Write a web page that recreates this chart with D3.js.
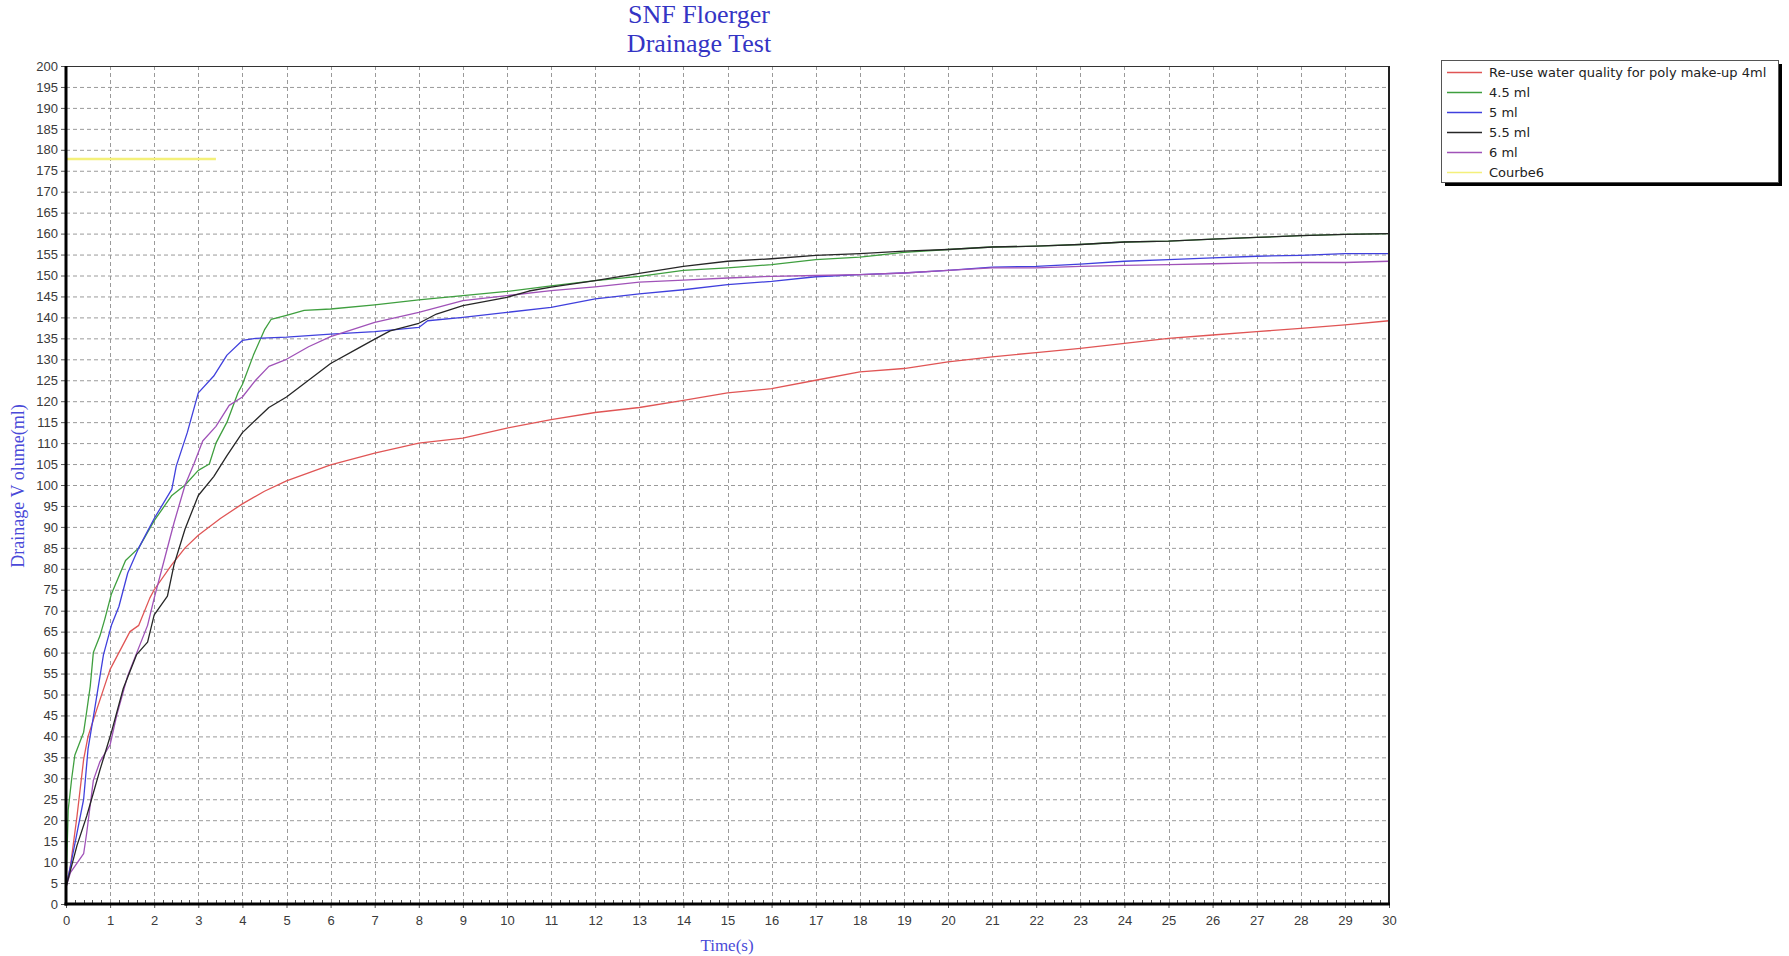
<!DOCTYPE html>
<html>
<head>
<meta charset="utf-8">
<script src="https://cdn.jsdelivr.net/npm/d3@7"></script>
<style>
  html, body { margin: 0; padding: 0; background: #fff; }
  svg { display: block; }
</style>
</head>
<body>
<svg id="chart" width="1789" height="956"></svg>
<script>
// ---------- DATA ----------
const titleLines = ["SNF Floerger", "Drainage Test"];
const xLabel = "Time(s)";
const yLabel = "Drainage V olume(ml)";
const xTicks = d3.range(0, 31, 1);
const yTicks = d3.range(0, 201, 5);

const seriesNames = ["Re-use water quality for poly make-up 4ml", "4.5 ml", "5 ml", "5.5 ml", "6 ml", "Courbe6"];
const seriesColors = ["#e05555", "#3f9f3f", "#4040dd", "#262626", "#a052b8", "#f4f07a"];

const redT = [0, 0.1, 0.25, 0.4, 0.5, 0.7, 1.0, 1.45, 1.65, 1.9, 2.0, 2.4, 2.7, 3.0, 3.5, 4.0, 4.5, 5.0, 6, 7, 8, 9, 10, 11, 12, 13, 14, 15, 16, 17, 18, 19, 20, 21, 22, 23, 24, 25, 26, 27, 28, 29, 30];
const redV = [4, 9, 21, 34.5, 40, 46.5, 56, 65, 66.5, 73, 75, 81, 85, 88, 92, 95.5, 98.5, 101, 104.8, 107.6, 110, 111.2, 113.6, 115.6, 117.3, 118.5, 120.2, 122, 123, 125, 127, 127.8, 129.4, 130.6, 131.6, 132.6, 133.8, 135, 135.8, 136.6, 137.4, 138.2, 139.2];

const greenT = [0, 0.05, 0.13, 0.2, 0.4, 0.47, 0.55, 0.62, 0.77, 0.88, 1.03, 1.35, 1.65, 2.0, 2.4, 2.7, 3.0, 3.25, 3.4, 3.65, 3.9, 4.0, 4.25, 4.5, 4.65, 5.0, 5.4, 6, 7, 8, 9, 10, 11, 12, 13, 14, 15, 16, 17, 18, 19, 20, 21, 22, 23, 24, 25, 26, 27, 28, 29, 30];
const greenV = [4, 22.5, 30, 35.5, 41, 46, 52, 60, 64, 68, 74, 82, 85, 91.5, 97.5, 100, 103.5, 105, 110, 115, 122, 124, 131, 137, 139.5, 140.5, 141.7, 142, 143, 144.2, 145.2, 146.2, 147.5, 148.8, 149.8, 151.2, 151.8, 152.6, 153.8, 154.4, 155.5, 156.2, 156.8, 157, 157.4, 158, 158.2, 158.7, 159.1, 159.5, 159.8, 160];

const blueT = [0, 0.1, 0.25, 0.4, 0.5, 0.65, 0.85, 1.03, 1.2, 1.4, 1.65, 2.0, 2.4, 2.5, 2.75, 3.0, 3.35, 3.65, 4.0, 4.3, 5.0, 6, 7, 8, 8.2, 9, 10, 11, 12, 13, 14, 15, 16, 17, 18, 19, 20, 21, 22, 23, 24, 25, 26, 27, 28, 29, 30];
const blueV = [4, 9, 17, 25, 37, 46.5, 59.5, 66.5, 71, 79, 85, 92, 99, 104.5, 112.5, 122, 126, 131, 134.5, 135, 135.3, 136, 136.6, 137.6, 139.2, 140, 141.2, 142.4, 144.4, 145.6, 146.6, 147.8, 148.6, 149.7, 150.2, 150.6, 151.2, 152, 152.2, 152.7, 153.4, 153.8, 154.2, 154.6, 154.8, 155.2, 155.2];

const blackT = [0, 0.25, 0.47, 0.62, 0.77, 1.03, 1.3, 1.6, 1.85, 2.0, 2.3, 2.45, 2.7, 3.0, 3.35, 3.65, 4.0, 4.3, 4.6, 5.0, 5.5, 6, 6.6, 7, 7.35, 8, 8.4, 9, 10, 10.5, 11, 12, 13, 14, 15, 16, 17, 18, 19, 20, 21, 22, 23, 24, 25, 26, 27, 28, 29, 30];
const blackV = [4, 14, 21, 26.5, 32, 41, 51.5, 59.5, 62.5, 69, 73.5, 81, 89.5, 97.5, 102, 107, 112.5, 115.5, 118.5, 121, 125, 129, 132.5, 134.8, 136.8, 138.6, 140.8, 142.8, 144.8, 146.3, 147.2, 148.8, 150.5, 152.2, 153.4, 154, 154.8, 155.2, 155.8, 156.2, 156.8, 157, 157.4, 158, 158.2, 158.7, 159.1, 159.5, 159.8, 160];

const purpleT = [0, 0.1, 0.4, 0.47, 0.62, 0.77, 1.0, 1.15, 1.4, 1.7, 1.85, 2.0, 2.25, 2.45, 2.7, 2.9, 3.1, 3.4, 3.7, 4.0, 4.3, 4.6, 5.0, 5.5, 6, 7, 8, 9, 10, 11, 12, 13, 14, 15, 16, 17, 18, 19, 20, 21, 22, 23, 24, 25, 26, 27, 28, 29, 30];
const purpleV = [4, 7.5, 12, 17, 29.5, 34, 38, 45, 54.5, 62.5, 66.5, 73, 83, 91, 100, 105, 110.5, 114, 119, 121, 125, 128.3, 130, 133, 135.4, 138.8, 141.2, 144, 145.2, 146.4, 147.3, 148.4, 148.9, 149.4, 149.8, 150, 150.2, 150.6, 151.2, 151.8, 151.8, 152.2, 152.4, 152.6, 152.8, 153, 153.1, 153.1, 153.4];

const courbe6T = [0, 3.4];
const courbe6V = [177.8, 177.8];

// ---------- LAYOUT ----------
const svg = d3.select("#chart");
const W = 1789, H = 956;
const plot = { left: 66, right: 1389, top: 66, bottom: 904 };

const x = d3.scaleLinear().domain([0, 30]).range([plot.left, plot.right]);
const y = d3.scaleLinear().domain([0, 200]).range([plot.bottom, plot.top]);

svg.append("rect").attr("width", W).attr("height", H).attr("fill", "#fff");

// Grid
const grid = svg.append("g");
grid.selectAll("line.h").data(yTicks.filter(d => d > 0 && d < 200)).enter().append("line")
  .attr("x1", plot.left).attr("x2", plot.right)
  .attr("y1", d => y(d) + 0.5).attr("y2", d => y(d) + 0.5)
  .attr("stroke", "#9a9a9a").attr("stroke-width", 1).attr("stroke-dasharray", "4,3");
grid.selectAll("line.v").data(xTicks.filter(d => d > 0 && d < 30)).enter().append("line")
  .attr("y1", plot.top).attr("y2", plot.bottom)
  .attr("x1", d => Math.round(x(d)) + 0.5).attr("x2", d => Math.round(x(d)) + 0.5)
  .attr("stroke", "#9a9a9a").attr("stroke-width", 1).attr("stroke-dasharray", "4,3");

// Minor ticks on x axis (inside)
const minor = d3.range(0, 30.001, 0.2).filter(d => Math.abs(d - Math.round(d)) > 0.01);
svg.append("g").selectAll("line").data(minor).enter().append("line")
  .attr("x1", d => Math.round(x(d)) + 0.5).attr("x2", d => Math.round(x(d)) + 0.5)
  .attr("y1", plot.bottom - 4).attr("y2", plot.bottom)
  .attr("stroke", "#555").attr("stroke-width", 1);

// Axes
const xAxis = d3.axisBottom(x).tickValues(xTicks).tickSize(4).tickPadding(8).tickFormat(d3.format("d"));
const yAxis = d3.axisLeft(y).tickValues(yTicks).tickSize(5).tickPadding(3).tickFormat(d3.format("d"));

const gx = svg.append("g").attr("transform", `translate(0,${plot.bottom})`).call(xAxis);
const gy = svg.append("g").attr("transform", `translate(${plot.left},0)`).call(yAxis);
[gx, gy].forEach(g => {
  g.select(".domain").remove();
  g.selectAll(".tick line").attr("stroke", "#555");
  g.selectAll(".tick text").attr("fill", "#3a3a3a")
    .style("font-family", "Arial, 'Liberation Sans', sans-serif").style("font-size", "13px");
});

// Series
const line = d3.line().x(d => x(d[0])).y(d => y(d[1]));
const seriesData = [
  d3.zip(redT, redV), d3.zip(greenT, greenV), d3.zip(blueT, blueV),
  d3.zip(blackT, blackV), d3.zip(purpleT, purpleV), d3.zip(courbe6T, courbe6V)
];
const drawOrder = [5, 0, 1, 2, 4, 3];
svg.append("g").selectAll("path").data(drawOrder).enter().append("path")
  .attr("d", i => line(seriesData[i]))
  .attr("fill", "none")
  .attr("stroke", i => seriesColors[i])
  .attr("stroke-width", i => i === 5 ? 2.5 : 1.3)
  .attr("stroke-linejoin", "round");

// Plot border
svg.append("line").attr("x1", plot.left).attr("x2", plot.right).attr("y1", plot.top + 0.5).attr("y2", plot.top + 0.5)
  .attr("stroke", "#333").attr("stroke-width", 1);
svg.append("line").attr("x1", plot.right).attr("x2", plot.right).attr("y1", plot.top).attr("y2", plot.bottom)
  .attr("stroke", "#222").attr("stroke-width", 2);
svg.append("line").attr("x1", plot.left).attr("x2", plot.left).attr("y1", plot.top).attr("y2", plot.bottom + 1.5)
  .attr("stroke", "#000").attr("stroke-width", 3);
svg.append("line").attr("x1", plot.left - 1.5).attr("x2", plot.right + 1).attr("y1", plot.bottom).attr("y2", plot.bottom)
  .attr("stroke", "#000").attr("stroke-width", 3);

// Titles
const titleColor = "#3434c4";
svg.append("text").attr("x", 699).attr("y", 23).attr("text-anchor", "middle")
  .style("font-family", "'Liberation Serif', 'Times New Roman', serif").style("font-size", "26px")
  .attr("fill", titleColor).text(titleLines[0]);
svg.append("text").attr("x", 699).attr("y", 52).attr("text-anchor", "middle")
  .style("font-family", "'Liberation Serif', 'Times New Roman', serif").style("font-size", "26px")
  .attr("fill", titleColor).text(titleLines[1]);

svg.append("text").attr("transform", "translate(24,486) rotate(-90)").attr("text-anchor", "middle")
  .style("font-family", "'Liberation Serif', 'Times New Roman', serif").style("font-size", "18px")
  .attr("fill", "#4a4ad8").text(yLabel);
svg.append("text").attr("x", 727).attr("y", 951).attr("text-anchor", "middle")
  .style("font-family", "'Liberation Serif', 'Times New Roman', serif").style("font-size", "17px")
  .attr("fill", "#4a4ad8").text(xLabel);

// Legend
const lg = { x: 1441, y: 60, w: 337, h: 122 };
svg.append("rect").attr("x", lg.x + 4).attr("y", lg.y + 4).attr("width", lg.w).attr("height", lg.h).attr("fill", "#000");
svg.append("rect").attr("x", lg.x + 0.5).attr("y", lg.y + 0.5).attr("width", lg.w).attr("height", lg.h)
  .attr("fill", "#fff").attr("stroke", "#555").attr("stroke-width", 1);
const legendY = d3.scaleLinear().domain([0, 5]).range([lg.y + 12, lg.y + 112]);
const items = svg.append("g").selectAll("g").data(seriesNames).enter().append("g")
  .attr("transform", (d, i) => `translate(0,${legendY(i)})`);
items.append("line").attr("x1", 1447).attr("x2", 1482).attr("y1", 0.5).attr("y2", 0.5)
  .attr("stroke", (d, i) => seriesColors[i]).attr("stroke-width", 1.3);
items.append("text").attr("x", 1489).attr("y", 5)
  .style("font-family", "'DejaVu Sans', Verdana, sans-serif").style("font-size", "13px")
  .attr("fill", "#222").text(d => d);
</script>
</body>
</html>
